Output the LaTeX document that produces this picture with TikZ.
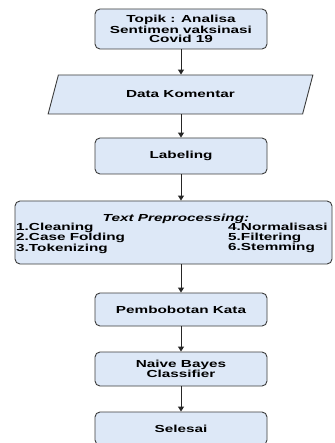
\documentclass[tikz,border=0pt]{standalone}
\usepackage{fontspec}
\newfontfamily\flowfont{Liberation Sans}[FakeStretch=1.5]
\usetikzlibrary{arrows.meta}
\usetikzlibrary{shapes.geometric}
\definecolor{boxfill}{RGB}{221,232,247}
\definecolor{boxline}{RGB}{60,60,60}

\begin{document}
\begin{tikzpicture}[x=1pt,y=-1pt,
	font=\flowfont\bfseries\fontsize{10.2}{9.5}\selectfont,
	box/.style={draw=boxline,fill=boxfill,line width=0.9pt,rounded corners=5pt,
		minimum width=172pt,align=center,inner sep=0pt},
	dataio/.style={trapezium,trapezium stretches=true,trapezium left angle=57.3,
		trapezium right angle=122.7,draw=boxline,fill=boxfill,line width=0.9pt,
		minimum width=265pt,minimum height=39pt,inner sep=0pt},
	flow/.style={-{Triangle[width=6pt,length=5pt]},line width=1pt,black!85}]
	\fill[white] (0,0) rectangle (334,443);
	\useasboundingbox (0,0) rectangle (334,443);

	\node[box,minimum height=40pt] (topic) at (181,29) {Topik : Analisa\\Sentimen vaksinasi\\Covid 19};
	\node[dataio] (data) at (180.5,94.5) {Data Komentar};
	\node[box,minimum height=36pt] (label) at (181,156) {Labeling};

	% kotak preprocessing, teks di dalamnya diletakkan terpisah
	\node[box,minimum width=317pt,minimum height=63pt] (prep) at (173.5,232.5) {};
	\node (preptitle) at (176,219) {\itshape Text Preprocessing:};
	\node[anchor=west,align=left,inner sep=0pt] (prepleft) at (16,238) {1.Cleaning\\2.Case Folding\\3.Tokenizing};
	\node[anchor=west,align=left,inner sep=0pt] (prepright) at (228,238) {4.Normalisasi\\5.Filtering\\6.Stemming};

	\node[box,minimum height=33pt] (weight) at (181,309.5) {Pembobotan Kata};
	\node[box,minimum height=34pt] (nbc) at (181,369) {Naive Bayes\\Classifier};
	\node[box,minimum height=33pt] (done) at (181,428.5) {Selesai};

	\draw[flow] (topic.south) -- (topic.south |- data.north);
	\draw[flow] (data.south -| topic.south) -- (label.north);
	\draw[flow] (label.south) -- (label.south |- prep.north);
	\draw[flow] (label.south |- prep.south) -- (weight.north);
	\draw[flow] (weight.south) -- (nbc.north);
	\draw[flow] (nbc.south) -- (done.north);
\end{tikzpicture}
\end{document}
